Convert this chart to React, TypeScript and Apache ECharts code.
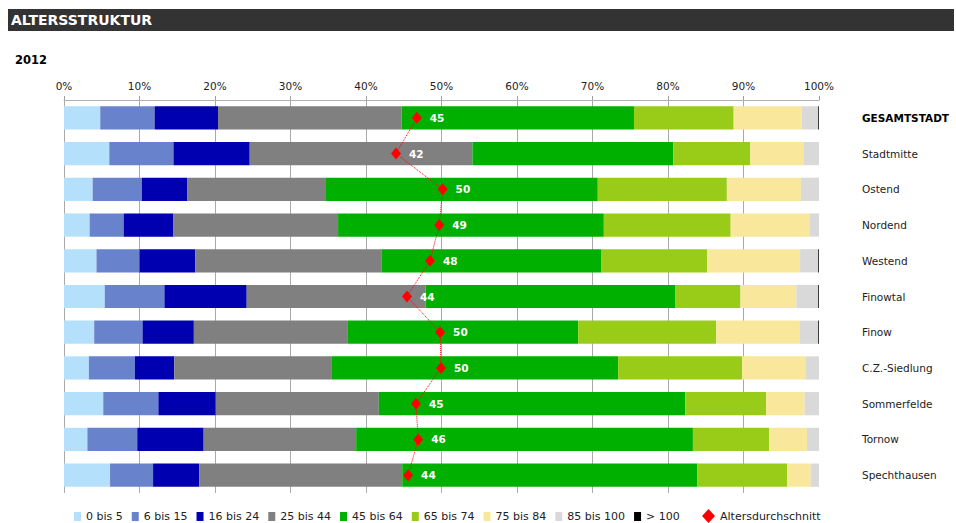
import React, { useEffect, useRef } from "react";
import * as echarts from "echarts";

const categories = [
  "GESAMTSTADT",
  "Stadtmitte",
  "Ostend",
  "Nordend",
  "Westend",
  "Finowtal",
  "Finow",
  "C.Z.-Siedlung",
  "Sommerfelde",
  "Tornow",
  "Spechthausen",
];

const ageGroups = [
  "0 bis 5",
  "6 bis 15",
  "16 bis 24",
  "25 bis 44",
  "45 bis 64",
  "65 bis 74",
  "75 bis 84",
  "85 bis 100",
  "> 100",
];

const age0to5 = [4.8, 6.0, 3.8, 3.4, 4.3, 5.4, 4.0, 3.3, 5.2, 3.1, 6.1];
const age6to15 = [7.2, 8.5, 6.5, 4.5, 5.7, 7.9, 6.4, 6.1, 7.3, 6.6, 5.7];
const age16to24 = [8.4, 10.1, 6.0, 6.6, 7.4, 10.9, 6.8, 5.2, 7.6, 8.8, 6.1];
const age25to44 = [24.3, 29.5, 18.4, 21.8, 24.7, 23.7, 20.4, 20.8, 21.6, 20.2, 26.9];
const age45to64 = [30.8, 26.6, 36.0, 35.2, 29.1, 33.1, 30.5, 38.0, 40.6, 44.6, 39.1];
const age65to74 = [13.2, 10.2, 17.1, 16.8, 14.0, 8.6, 18.3, 16.4, 10.7, 10.1, 11.9];
const age75to84 = [9.0, 7.1, 9.8, 10.5, 12.3, 7.4, 11.0, 8.4, 5.1, 5.0, 3.1];
const age85to100 = [2.2, 2.0, 2.4, 1.2, 2.4, 2.9, 2.5, 1.8, 1.9, 1.6, 1.1];
const ageOver100 = [0.1, 0, 0, 0, 0.1, 0.1, 0.1, 0, 0, 0, 0];

const avgAge = [45.45, 41.75, 50.05, 49.45, 47.8, 43.7, 49.6, 49.75, 45.3, 45.7, 43.9];

const percentTicks = [0, 10, 20, 30, 40, 50, 60, 70, 80, 90, 100];

const groupValues = [
  age0to5,
  age6to15,
  age16to24,
  age25to44,
  age45to64,
  age65to74,
  age75to84,
  age85to100,
  ageOver100,
];

const groupColors = [
  "#b4e0fc",
  "#6882cb",
  "#0000b1",
  "#808080",
  "#00b000",
  "#99cc18",
  "#f9e79b",
  "#d9d9d9",
  "#000000",
];

const FONT = 'Verdana, "DejaVu Sans", sans-serif';

export default function App() {
  const ref = useRef<HTMLDivElement>(null);

  useEffect(() => {
    if (!ref.current) return;
    const chart = echarts.init(ref.current, null, { renderer: "svg" });

    const barSeries = ageGroups.map((name, gi) => ({
      name,
      type: "bar",
      stack: "total",
      barCategoryGap: "35%",
      xAxisIndex: 0,
      yAxisIndex: 0,
      itemStyle: { color: groupColors[gi] },
      data: groupValues[gi],
      z: 2,
    }));

    chart.setOption({
      animation: false,
      textStyle: { fontFamily: FONT },
      graphic: [
        {
          type: "rect",
          shape: { x: 8, y: 9, width: 946, height: 22 },
          style: { fill: "#333333" },
        },
        {
          type: "text",
          x: 11,
          y: 20,
          style: {
            text: "ALTERSSTRUKTUR",
            fill: "#ffffff",
            font: `bold 14px ${FONT}`,
            textVerticalAlign: "middle",
          },
        },
        {
          type: "text",
          x: 15,
          y: 60,
          style: {
            text: "2012",
            fill: "#000000",
            font: `bold 11.5px ${FONT}`,
            textVerticalAlign: "middle",
          },
        },
      ],
      legend: [
        {
          data: ageGroups,
          left: 69,
          top: 506,
          itemWidth: 7,
          itemHeight: 9,
          itemGap: 9,
          icon: "rect",
          textStyle: { fontFamily: FONT, fontSize: 11, color: "#222" },
          selectedMode: false,
        },
        {
          data: [{ name: "Altersdurchschnitt", icon: "diamond" }],
          left: 697,
          top: 504,
          itemWidth: 13,
          itemHeight: 14,
          textStyle: { fontFamily: FONT, fontSize: 11, color: "#222" },
          selectedMode: false,
        },
      ],
      grid: { left: 64, right: 137, top: 100, height: 393 },
      xAxis: [
        {
          type: "value",
          position: "top",
          min: 0,
          max: 100,
          interval: 10,
          axisLine: { show: true, lineStyle: { color: "#b0b0b0", width: 1 } },
          axisTick: { show: true, length: 4, lineStyle: { color: "#a0a0a0" } },
          axisLabel: {
            margin: 9,
            color: "#222",
            fontFamily: FONT,
            fontSize: 10.5,
            formatter: (v: number) => (percentTicks.includes(v) ? `${v}%` : ""),
          },
          splitLine: {
            show: true,
            showMaxLine: false,
            lineStyle: { color: "#aaaaaa", width: 1 },
          },
        },
        {
          type: "value",
          show: false,
          min: -17.4,
          max: 117.1,
          splitLine: { show: false },
        },
      ],
      yAxis: {
        type: "category",
        data: categories,
        inverse: true,
        position: "right",
        axisLine: { show: false },
        axisTick: { show: false },
        axisLabel: {
          align: "left",
          margin: 43,
          color: "#222",
          fontFamily: FONT,
          fontSize: 10.5,
          formatter: (v: string, i: number) => (i === 0 ? `{b|${v}}` : v),
          rich: {
            b: { fontWeight: "bold", color: "#000", fontFamily: FONT, fontSize: 10.5 },
          },
        },
      },
      series: [
        ...barSeries,
        {
          name: "Altersdurchschnitt",
          type: "line",
          xAxisIndex: 1,
          yAxisIndex: 0,
          data: avgAge.map((v, i) => [v, categories[i]]),
          symbol: "diamond",
          symbolSize: [10, 12],
          itemStyle: { color: "#ff0000" },
          lineStyle: { color: "#ff0000", width: 1, type: "dotted" },
          z: 10,
          label: {
            show: true,
            position: "right",
            distance: 8,
            color: "#ffffff",
            fontWeight: "bold",
            fontSize: 10.5,
            fontFamily: FONT,
            formatter: (p: any) => String(Math.round(p.value[0])),
          },
        },
      ],
    });

    return () => chart.dispose();
  }, []);

  return (
    <div
      ref={ref}
      style={{ position: "fixed", left: 0, top: 0, width: 956, height: 523, background: "#fff" }}
    />
  );
}
